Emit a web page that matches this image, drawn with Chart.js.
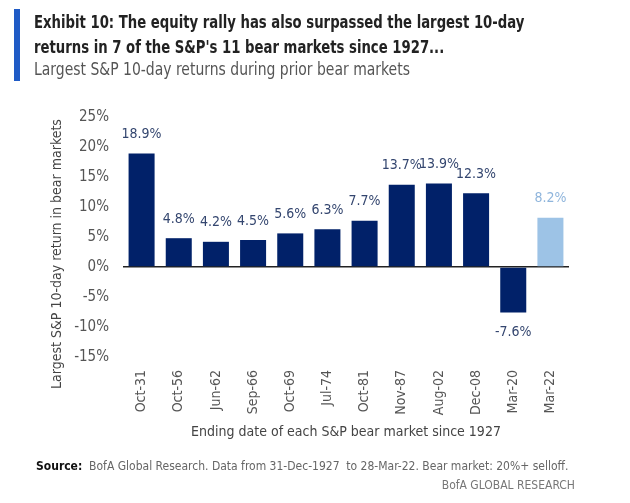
<!DOCTYPE html>
<html lang="en">
<head>
<meta charset="UTF-8">
<title>Largest S&amp;P 10-day returns</title>
<script src="https://cdn.jsdelivr.net/npm/chart.js"></script>
<style>
  body { margin: 0; background: #fff; font-family: "Liberation Sans Narrow", "DejaVu Sans Condensed", sans-serif; }
  #wrap { position: relative; width: 630px; height: 503px; overflow: hidden; }
  #chart { position: absolute; left: 0; top: 0; }
  .bar { position: absolute; left: 14px; top: 9px; width: 6px; height: 72px; background: #1f5bc6; }
  .t { position: absolute; left: 34px; font-weight: bold; font-size: 17px; color: #222; white-space: nowrap;
       transform: scaleX(0.865); transform-origin: left center; }
  .sub { position: absolute; left: 34px; top: 59px; font-size: 17px; color: #555; white-space: nowrap;
         transform: scaleX(0.913); transform-origin: left center; }
  .src { position: absolute; left: 36px; top: 459px; font-size: 12px; color: #666; white-space: nowrap; }
  .src b { color: #111; }
  .brand { position: absolute; right: 55px; top: 478px; font-size: 12px; color: #777; white-space: nowrap; }
</style>
</head>
<body>
<div id="wrap">
  <canvas id="chart" width="630" height="503"></canvas>
  <div class="bar"></div>
  <div class="t" style="top:12px">Exhibit 10: The equity rally has also surpassed the largest 10-day</div>
  <div class="t" style="top:37px">returns in 7 of the S&amp;P's 11 bear markets since 1927...</div>
  <div class="sub">Largest S&amp;P 10-day returns during prior bear markets</div>
  <div class="src"><b>Source:</b>&nbsp; BofA Global Research. Data from 31-Dec-1927 &nbsp;to 28-Mar-22. Bear market: 20%+ selloff.</div>
  <div class="brand">BofA GLOBAL RESEARCH</div>
</div>
<script>
    const endDates = ['Oct-31', 'Oct-56', 'Jun-62', 'Sep-66', 'Oct-69', 'Jul-74', 'Oct-81', 'Nov-87', 'Aug-02', 'Dec-08', 'Mar-20', 'Mar-22'];
    const largestReturns = [18.9, 4.8, 4.2, 4.5, 5.6, 6.3, 7.7, 13.7, 13.9, 12.3, -7.6, 8.2];
    const yTicks = [25, 20, 15, 10, 5, 0, -5, -10, -15];
    const yTitle = 'Largest S&P 10-day return in bear markets';
    const xTitle = 'Ending date of each S&P bear market since 1927';

    const navy = '#012169';
    const lightBlue = '#9dc3e6';
    const barColors = endDates.map(d => d === 'Mar-22' ? lightBlue : navy);
    const labelColors = endDates.map(d => d === 'Mar-22' ? '#8fb5dc' : '#34466f');
    const fontFam = '"Liberation Sans Narrow", "DejaVu Sans Condensed", sans-serif';

    // value labels above/below each bar, plus the y axis title (sits a bit low in the original)
    const extras = {
        id: 'extras',
        afterDatasetsDraw(chart) {
            const ctx = chart.ctx;
            const meta = chart.getDatasetMeta(0);
            ctx.save();
            ctx.font = '14px ' + fontFam;
            ctx.textAlign = 'center';
            ctx.textBaseline = 'middle';
            meta.data.forEach((bar, i) => {
                const v = largestReturns[i];
                ctx.fillStyle = labelColors[i];
                const y = v >= 0 ? bar.y - 19 : bar.y + 20;
                ctx.fillText(v.toFixed(1) + '%', bar.x, y);
            });
            ctx.translate(57, 254);
            ctx.rotate(-Math.PI / 2);
            ctx.fillStyle = '#444';
            ctx.fillText(yTitle, 0, 0);
            ctx.restore();
        }
    };

    new Chart(document.getElementById('chart'), {
        type: 'bar',
        data: {
            labels: endDates,
            datasets: [{
                data: largestReturns,
                backgroundColor: barColors,
                barPercentage: 0.7,
                categoryPercentage: 1
            }]
        },
        options: {
            responsive: false,
            animation: false,
            layout: { padding: { left: 45, right: 61, top: 117, bottom: 56 } },
            plugins: { legend: { display: false }, tooltip: { enabled: false } },
            scales: {
                x: {
                    grid: { display: false },
                    border: { display: false },
                    ticks: {
                        minRotation: 90, maxRotation: 90, padding: 5,
                        color: '#555', font: { family: fontFam, size: 14 }
                    },
                    title: {
                        display: true, text: xTitle,
                        color: '#444', font: { family: fontFam, size: 14 }, padding: { top: 0, bottom: 6 }
                    },
                    afterFit(scale) { scale.height = 90; }
                },
                y: {
                    min: -15, max: 25,
                    afterBuildTicks(scale) { scale.ticks = yTicks.map(v => ({ value: v })); },
                    grid: {
                        drawTicks: false,
                        color: c => c.tick && c.tick.value === 0 ? '#222' : 'rgba(0,0,0,0)',
                        lineWidth: 1.5
                    },
                    border: { display: false },
                    ticks: {
                        padding: 14, color: '#555',
                        font: { family: fontFam, size: 15 },
                        callback: v => v + '%'
                    },
                    afterFit(scale) { scale.width = 78; }
                }
            }
        },
        plugins: [extras]
    });
</script>
</body>
</html>
